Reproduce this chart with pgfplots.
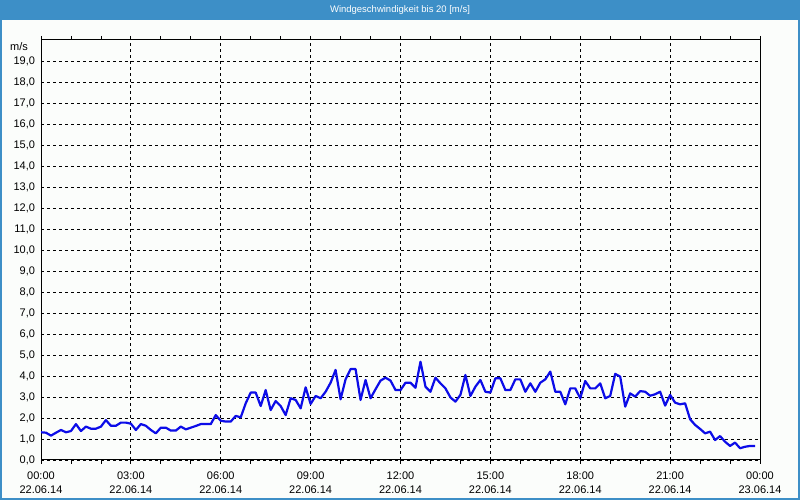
\documentclass[border=0pt]{standalone}
\usepackage{fontspec}
\setmainfont{Liberation Sans}
\usepackage{pgfplots}
\usepackage{pgfplotstable}
\pgfplotsset{compat=1.18}
\definecolor{barblue}{RGB}{61,143,199}
\definecolor{bgcol}{RGB}{251,253,251}
\definecolor{linecol}{RGB}{12,12,232}

% k = 10-minute step since 22.06.14 00:00, v = wind speed in m/s
\pgfplotstableread{
k v
0 1.32
1 1.30
2 1.16
3 1.30
4 1.43
5 1.32
6 1.38
7 1.71
8 1.38
9 1.59
10 1.49
11 1.49
12 1.59
13 1.90
14 1.63
15 1.63
16 1.78
17 1.78
18 1.73
19 1.43
20 1.71
21 1.63
22 1.43
23 1.27
24 1.54
25 1.54
26 1.40
27 1.40
28 1.59
29 1.46
30 1.54
31 1.62
32 1.71
33 1.71
34 1.71
35 2.14
36 1.87
37 1.83
38 1.83
39 2.10
40 2.03
41 2.70
42 3.21
43 3.21
44 2.57
45 3.33
46 2.38
47 2.81
48 2.57
49 2.14
50 2.94
51 2.86
52 2.46
53 3.46
54 2.67
55 3.05
56 2.94
57 3.25
58 3.68
59 4.29
60 2.89
61 3.84
62 4.33
63 4.33
64 2.86
65 3.81
66 2.94
67 3.37
68 3.78
69 3.92
70 3.78
71 3.33
72 3.33
73 3.68
74 3.68
75 3.44
76 4.68
77 3.49
78 3.25
79 3.92
80 3.65
81 3.41
82 2.98
83 2.78
84 3.10
85 4.05
86 3.05
87 3.49
88 3.81
89 3.25
90 3.21
91 3.89
92 3.89
93 3.33
94 3.33
95 3.84
96 3.84
97 3.25
98 3.65
99 3.25
100 3.68
101 3.84
102 4.21
103 3.25
104 3.25
105 2.65
106 3.41
107 3.41
108 2.94
109 3.76
110 3.41
111 3.41
112 3.65
113 2.94
114 3.05
115 4.10
116 3.97
117 2.54
118 3.17
119 3.02
120 3.28
121 3.25
122 3.06
123 3.13
124 3.25
125 2.59
126 3.10
127 2.73
128 2.65
129 2.70
130 1.94
131 1.67
132 1.48
133 1.27
134 1.35
135 0.95
136 1.14
137 0.87
138 0.67
139 0.83
140 0.56
141 0.63
142 0.67
143 0.67
}\windtable

\begin{document}
\begin{tikzpicture}[x=1pt,y=1pt]
\useasboundingbox (0,0) rectangle (800,500);
\fill[bgcol] (0,0) rectangle (800,500);
\fill[barblue] (0,480) rectangle (800,500);
\draw[barblue, line width=2pt] (1,1) rectangle (799,499);
\node[white, font=\fontsize{9.5}{10}\selectfont] at (400,490) {Windgeschwindigkeit bis 20 [m/s]};
\node[font=\fontsize{11}{12}\selectfont] at (19,453) {m/s};
\begin{axis}[
    at={(41pt,40pt)}, anchor=south west,
    width=719pt, height=420pt, scale only axis,
    xmin=0, xmax=144, ymin=0, ymax=20,
    xtick={0,18,...,144},
    minor xtick={6,12,...,138},
    xticklabels={00:00\\22.06.14, 03:00\\22.06.14, 06:00\\22.06.14,
        09:00\\22.06.14, 12:00\\22.06.14, 15:00\\22.06.14,
        18:00\\22.06.14, 21:00\\22.06.14, 00:00\\23.06.14},
    ytick={0,...,19},
    yticklabels={{0,0},{1,0},{2,0},{3,0},{4,0},{5,0},{6,0},{7,0},{8,0},{9,0},
        {10,0},{11,0},{12,0},{13,0},{14,0},{15,0},{16,0},{17,0},{18,0},{19,0}},
    tick label style={font=\fontsize{11}{16}\selectfont},
    xticklabel style={align=center, yshift=-4pt, font=\fontsize{11}{14}\selectfont},
    yticklabel style={xshift=1.5pt},
    tick align=outside,
    major tick length=4pt, minor tick length=4pt,
    ytick style={draw=none},
    xtick style={black, line width=0.8pt},
    grid=major,
    major grid style={black, line width=0.8pt, dash pattern=on 3pt off 3pt},
    axis line style={black, line width=1pt},
    axis background/.style={fill=bgcol},
]
\addplot[linecol, line width=2.2pt, line join=round] table[x=k, y=v] {\windtable};
\end{axis}
\end{tikzpicture}
\end{document}
